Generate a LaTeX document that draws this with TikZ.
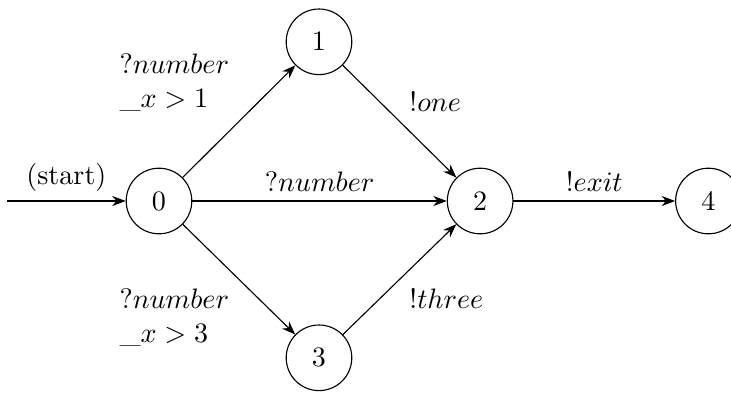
\documentclass[tikz,border=0pt]{standalone}
\usetikzlibrary{arrows.meta,positioning}

\begin{document}
\begin{tikzpicture}[
  loc/.style={circle, draw, minimum size=0.82cm, inner sep=0pt},
  >=Stealth
]
\useasboundingbox (-1.9875,-2.4125) rectangle (7.15,2.5125);
\node[loc] (q0) at (0,0) {$0$};
\node[loc] (q1) at (2,1.99) {$1$};
\node[loc, right=3.18cm of q0] (q2) {$2$};
\node[loc] (q3) at (2,-1.96) {$3$};
\node[loc, right=2.02cm of q2] (q4) {$4$};
\coordinate[left=1.48cm of q0] (init);

\draw[->] (init) -- node[above] {(start)} (q0);
\draw[->] (q0) -- node[above left, align=left] {$?number$\\$\_x > 1$} (q1);
\draw[->] (q0) -- node[above] {$?number$} (q2);
\draw[->] (q0) -- node[below left, align=left] {$?number$\\$\_x > 3$} (q3);
\draw[->] (q1) -- node[above right] {$!one$} (q2);
\draw[->] (q3) -- node[below right] {$!three$} (q2);
\draw[->] (q2) -- node[above] {$!exit$} (q4);
\end{tikzpicture}
\end{document}
